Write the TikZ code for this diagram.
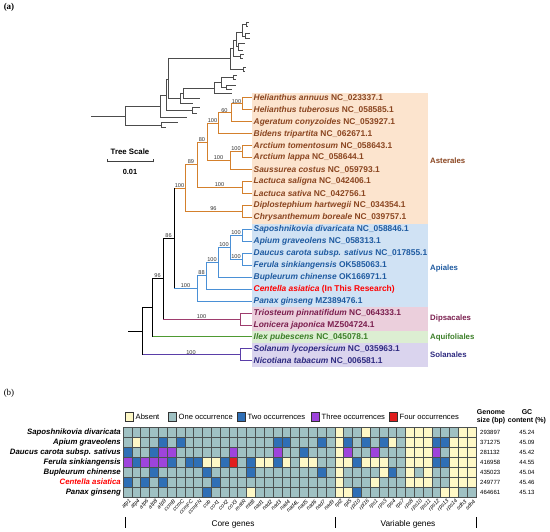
\documentclass[tikz,border=0pt]{standalone}
\usepackage{fontspec}
\setmainfont{Liberation Serif}
\newfontfamily\arial{Liberation Sans}
\definecolor{astB}{HTML}{D4802C}
\definecolor{astT}{HTML}{8A4520}
\definecolor{astF}{HTML}{FCE4CE}
\definecolor{apiB}{HTML}{4A90D6}
\definecolor{apiT}{HTML}{1E5AA0}
\definecolor{apiF}{HTML}{D0E2F4}
\definecolor{dipB}{HTML}{9E3D6E}
\definecolor{dipT}{HTML}{7A1E4E}
\definecolor{dipF}{HTML}{EBCFDC}
\definecolor{aqB}{HTML}{4E9A32}
\definecolor{aqT}{HTML}{3C7F28}
\definecolor{aqF}{HTML}{DCEED2}
\definecolor{solB}{HTML}{5A3EA8}
\definecolor{solT}{HTML}{2E2A80}
\definecolor{solF}{HTML}{DAD4EE}
\definecolor{cA}{HTML}{FEF8C6}
\definecolor{cO}{HTML}{9FC1C3}
\definecolor{cT}{HTML}{2F6FB6}
\definecolor{cH}{HTML}{9E44DC}
\definecolor{cF}{HTML}{E01E1E}
\definecolor{gridc}{HTML}{4A5050}
\tikzset{
 br/.style={line width=1pt},
 tip/.style={anchor=west, inner sep=0pt, font=\arial\bfseries\fontsize{8.4}{10}\selectfont},
 clade/.style={anchor=west, inner sep=0pt, font=\arial\bfseries\fontsize{7.8}{9}\selectfont},
 bs/.style={midway, above, inner sep=0.6pt, font=\arial\fontsize{5.6}{6}\selectfont, text=black!80},
 mini/.style={line width=0.7pt, draw=black!70},
 gene/.style={anchor=east, rotate=45, inner sep=0pt, font=\arial\itshape\fontsize{5.4}{6}\selectfont},
 rowlab/.style={anchor=east, inner sep=0pt, font=\arial\bfseries\itshape\fontsize{7.8}{9}\selectfont},
 leg/.style={anchor=west, inner sep=0pt, font=\arial\fontsize{7.6}{9}\selectfont},
 legbox/.style={draw=black!80, line width=0.6pt},
 num/.style={inner sep=0pt, font=\arial\fontsize{6}{7}\selectfont},
 hdr/.style={inner sep=0pt, align=center, font=\arial\bfseries\fontsize{7}{8}\selectfont},
 grp/.style={inner sep=0pt, font=\arial\fontsize{8.3}{9}\selectfont},
}
\begin{document}
\begin{tikzpicture}[x=1pt,y=-1pt]
\useasboundingbox[fill=white] (0,0) rectangle (550,532);
% panel labels
\node[inner sep=0pt, font=\bfseries\fontsize{9}{10}\selectfont] (pa) at (9,7) {(a)};
\node[inner sep=0pt, font=\fontsize{9}{10}\selectfont] (pb) at (9,393) {(b)};

% ---------- overview tree ----------
\draw[mini] (91,116) -- (125,116);
\draw[mini] (125,106) -- (125,125);
\draw[mini] (125,106) -- (160,106);
\draw[mini] (125,125) -- (161,125);
\draw[mini] (161,122.5) -- (161,127.5) (161,122.5) -- (178,122.5) (161,127.5) -- (166,127.5);
\draw[mini] (160,95) -- (160,117) (160,117) -- (187,117) (160,95) -- (166,95);
\draw[mini] (166,79) -- (166,110) (166,110) -- (192,110);
\draw[mini] (192,107) -- (192,113) (192,107) -- (200,107) (192,113) -- (197,113);
\draw[mini] (166,79) -- (168,79) (168,58) -- (168,98) (168,98) -- (180,98);
\draw[mini] (180,93) -- (180,103) (180,103) -- (193,103) (180,93) -- (183,93);
\draw[mini] (183,88) -- (183,98) (183,98) -- (200,98) (183,88) -- (214,88);
\draw[mini] (214,82) -- (214,93) (214,93) -- (232,93) (214,82) -- (221,82);
\draw[mini] (221,77) -- (221,87) (221,77) -- (233,77) (233,75) -- (233,79) (233,75) -- (237,75) (233,79) -- (236,79);
\draw[mini] (221,87) -- (226,87) (226,85) -- (226,89) (226,85) -- (236,85) (226,89) -- (232,89);
\draw[mini] (168,58) -- (230,58) (230,48) -- (230,69) (230,69) -- (243,69) (243,67) -- (243,71) (243,67) -- (246,67) (243,71) -- (245,71);
\draw[mini] (230,48) -- (233,48) (233,40) -- (233,56) (233,56) -- (240,56) (240,54) -- (240,58) (240,54) -- (244,54) (240,58) -- (243,58);
\draw[mini] (233,40) -- (236,40) (236,32) -- (236,46) (236,46) -- (238,46) (238,43) -- (238,50) (238,43) -- (245,43) (238,50) -- (243,50);
\draw[mini] (236,32) -- (242,32) (242,24) -- (242,36) (242,24) -- (246,24) (246,22) -- (246,26) (246,22) -- (249,22) (246,26) -- (248,26);
\draw[mini] (242,36) -- (245,36) (245,33) -- (245,38) (245,33) -- (250,33) (245,38) -- (250,38);

% ---------- tree scale ----------
\node[inner sep=0pt, font=\arial\bfseries\fontsize{7.8}{9}\selectfont] (tsl) at (130,152) {Tree Scale};
\coordinate (sbl) at (107,161);
\coordinate (sbr) at (153,161);
\draw[line width=0.8pt, black!75] (sbl) -- (sbr);
\draw[line width=0.6pt, black!75] ([yshift=-1.5pt]sbl) -- ([yshift=1.5pt]sbl) ([yshift=-1.5pt]sbr) -- ([yshift=1.5pt]sbr);
\node[inner sep=0pt, font=\arial\bfseries\fontsize{7.4}{9}\selectfont] (tsv) at (130,172) {0.01};

% ---------- clade boxes ----------
\fill[astF] (252,93) rectangle (428,224);
\fill[apiF] (252,224) rectangle (428,307);
\fill[dipF] (252,307) rectangle (428,331);
\fill[aqF] (252,331) rectangle (428,343);
\fill[solF] (252,343) rectangle (428,367);

% tips
\foreach \i in {1,...,23} { \coordinate (t\i) at (252,{98+11.95*(\i-1)}); }
\node[tip,text=astT] (L1) at ([xshift=1.5pt]t1) {\textit{Helianthus annuus} NC\_023337.1};
\node[tip,text=astT] (L2) at ([xshift=1.5pt]t2) {\textit{Helianthus tuberosus} NC\_058585.1};
\node[tip,text=astT] (L3) at ([xshift=1.5pt]t3) {\textit{Ageratum conyzoides} NC\_053927.1};
\node[tip,text=astT] (L4) at ([xshift=1.5pt]t4) {\textit{Bidens tripartita} NC\_062671.1};
\node[tip,text=astT] (L5) at ([xshift=1.5pt]t5) {\textit{Arctium tomentosum} NC\_058643.1};
\node[tip,text=astT] (L6) at ([xshift=1.5pt]t6) {\textit{Arctium lappa} NC\_058644.1};
\node[tip,text=astT] (L7) at ([xshift=1.5pt]t7) {\textit{Saussurea costus} NC\_059793.1};
\node[tip,text=astT] (L8) at ([xshift=1.5pt]t8) {\textit{Lactuca saligna} NC\_042406.1};
\node[tip,text=astT] (L9) at ([xshift=1.5pt]t9) {\textit{Lactuca sativa} NC\_042756.1};
\node[tip,text=astT] (L10) at ([xshift=1.5pt]t10) {\textit{Diplostephium hartwegii} NC\_034354.1};
\node[tip,text=astT] (L11) at ([xshift=1.5pt]t11) {\textit{Chrysanthemum boreale} NC\_039757.1};
\node[tip,text=apiT] (L12) at ([xshift=1.5pt]t12) {\textit{Saposhnikovia divaricata} NC\_058846.1};
\node[tip,text=apiT] (L13) at ([xshift=1.5pt]t13) {\textit{Apium graveolens} NC\_058313.1};
\node[tip,text=apiT] (L14) at ([xshift=1.5pt]t14) {\textit{Daucus carota subsp. sativus} NC\_017855.1};
\node[tip,text=apiT] (L15) at ([xshift=1.5pt]t15) {\textit{Ferula sinkiangensis} OK585063.1};
\node[tip,text=apiT] (L16) at ([xshift=1.5pt]t16) {\textit{Bupleurum chinense} OK166971.1};
\node[tip,text=red] (L17) at ([xshift=1.5pt]t17) {\textit{Centella asiatica} (In This Research)};
\node[tip,text=apiT] (L18) at ([xshift=1.5pt]t18) {\textit{Panax ginseng} MZ389476.1};
\node[tip,text=dipT] (L19) at ([xshift=1.5pt]t19) {\textit{Triosteum pinnatifidum} NC\_064333.1};
\node[tip,text=dipT] (L20) at ([xshift=1.5pt]t20) {\textit{Lonicera japonica} MZ504724.1};
\node[tip,text=aqT] (L21) at ([xshift=1.5pt]t21) {\textit{Ilex pubescens} NC\_045078.1};
\node[tip,text=solT] (L22) at ([xshift=1.5pt]t22) {\textit{Solanum lycopersicum} NC\_035963.1};
\node[tip,text=solT] (L23) at ([xshift=1.5pt]t23) {\textit{Nicotiana tabacum} NC\_006581.1};

% clade names
\node[clade,text=astT] (cAst) at (430,161) {Asterales};
\node[clade,text=apiT] (cApi) at (430,268) {Apiales};
\node[clade,text=dipT] (cDip) at (430,318) {Dipsacales};
\node[clade,text=aqT] (cAqu) at (430,337) {Aquifoliales};
\node[clade,text=solT] (cSol) at (430,355) {Solanales};

% internal nodes
\coordinate (hel) at (242,104);
\coordinate (n60) at (231,112.95);
\coordinate (n100a) at (218,123.4);
\coordinate (arc) at (242,151.8);
\coordinate (n100b) at (230,160.75);
\coordinate (n80) at (207,142.1);
\coordinate (lac) at (242,187.6);
\coordinate (n89) at (197,164.85);
\coordinate (dip) at (242,211.5);
\coordinate (ast) at (185,188.2);
\coordinate (sa) at (242,235.4);
\coordinate (df) at (242,259.3);
\coordinate (n100c) at (230,247.35);
\coordinate (n100d) at (218,262.3);
\coordinate (n88) at (206,275.75);
\coordinate (api) at (197,288.45);
\coordinate (n100e) at (174,238.3);
\coordinate (dps) at (240,319.1);
\coordinate (n86) at (163,278.7);
\coordinate (n96) at (152,307.85);
\coordinate (sol) at (240,354.9);
\coordinate (root) at (142,331.4);
\coordinate (rs) at (128,331.4);

% clade branches
\foreach \p/\c in {hel/t1,hel/t2,n60/hel,n60/t3,n100a/n60,n100a/t4,arc/t5,arc/t6,n100b/arc,n100b/t7,n80/n100a,n80/n100b,lac/t8,lac/t9,n89/n80,n89/lac,dip/t10,dip/t11,ast/n89,ast/dip}
  {\draw[br,astB] (\p) |- (\c);}
\foreach \p/\c in {sa/t12,sa/t13,df/t14,df/t15,n100c/sa,n100c/df,n100d/n100c,n100d/t16,n88/n100d,n88/t17,api/n88,api/t18}
  {\draw[br,apiB] (\p) |- (\c);}
\foreach \p/\c in {dps/t19,dps/t20} {\draw[br,dipB] (\p) |- (\c);}
\foreach \p/\c in {sol/t22,sol/t23} {\draw[br,solB] (\p) |- (\c);}
% backbone
\draw[br,astB] (n100e |- ast) -- (ast);
\draw[br,apiB] (n100e |- api) -- (api);
\draw[br,dipB] (n86 |- dps) -- (dps);
\draw[br,aqB] (n96 |- t21) -- (t21);
\draw[br,solB] (root |- sol) -- (sol);
\draw[br] (n100e |- ast) -- (n100e |- api);
\draw[br] (n86 |- n100e) -- (n100e);
\draw[br] (n86 |- n100e) -- (n86 |- dps);
\draw[br] (n96 |- n86) -- (n86);
\draw[br] (n96 |- n86) -- (n96 |- t21);
\draw[br] (root |- n96) -- (n96);
\draw[br] (root |- n96) -- (root |- sol);
\draw[br] (rs) -- (root);

% bootstrap values
\foreach \p/\c/\v in {n60/hel/100,n100a/n60/60,n80/n100a/100,n100b/arc/100,n80/n100b/100,n89/n80/80,n89/lac/100,ast/n89/89,ast/dip/96,n100e/ast/100,n100c/sa/100,n100c/df/100,n100d/n100c/100,n88/n100d/100,api/n88/88,n100e/api/100,n86/n100e/86,n96/n86/96,n86/dps/100,root/sol/100}
  {\path (\p |- \c) -- node[bs] {\v} (\c);}

% ---------- heatmap ----------
\foreach \sq/\txt [count=\k] in {125/Absent,168/One occurrence,237/Two occurrences,311/Three occurrences,389/Four occurrences} {
  \pgfmathsetmacro{\lc}{{"cA","cO","cT","cH","cF"}[\k-1]}
  \filldraw[legbox,fill=\lc] (\sq,412.5) rectangle ++(8.5,9);
  \node[leg] (lg\k) at (\sq+10.5,417) {\txt};
}
\node[hdr] (hg) at (491,417) {Genome\\size (bp)};
\node[hdr] (hc) at (527,417) {GC\\content (\%)};

\foreach \row [count=\i] in {
 {O,O,O,O,O,O,O,O,O,O,O,O,O,O,O,O,O,O,O,O,O,O,O,O,A,O,O,A,O,O,O,O,A,A,A,O,O,O,A,A},
 {O,A,O,O,T,O,T,O,O,O,O,O,O,O,O,O,O,T,T,O,O,O,T,O,A,T,O,T,O,T,A,O,A,A,A,T,T,A,A,A},
 {T,O,O,T,H,H,O,O,O,O,O,O,H,O,O,O,O,H,O,O,T,O,O,O,A,H,O,O,H,O,O,O,A,A,A,H,O,A,A,A},
 {H,T,H,H,H,T,O,T,T,A,A,T,F,O,T,A,A,T,A,O,A,A,O,O,A,A,T,A,A,A,O,O,A,A,A,T,T,A,A,A},
 {O,O,O,T,O,O,O,O,O,T,O,O,O,O,T,O,O,O,O,O,O,O,T,O,A,O,O,O,O,A,T,O,A,O,A,O,O,A,A,A},
 {T,O,T,O,T,O,O,O,O,O,T,O,O,O,O,O,O,O,O,O,O,O,O,O,A,O,O,O,A,O,O,O,A,A,A,O,O,A,A,A},
 {O,O,O,O,O,O,O,O,O,T,O,O,O,O,A,O,O,O,O,O,O,O,O,O,A,A,T,O,O,O,O,O,O,O,O,O,A,A,O,O}} {
  \foreach \c [count=\j] in \row {
    \filldraw[fill=c\c, draw=gridc, line width=0.5pt] ({123+(\j-1)*8.825},{427+(\i-1)*10}) rectangle ++(8.825,10);
  }
}
\foreach \sp/\gs/\gc [count=\i] in {Saposhnikovia divaricata/293897/45.24, Apium graveolens/371275/45.09, Daucus carota subsp. sativus/281132/45.42, Ferula sinkiangensis/416958/44.55, Bupleurum chinense/435023/45.04, Centella asiatica/249777/45.46, Panax ginseng/464661/45.13} {
  \node[rowlab] (r\i) at (121,{432+(\i-1)*10}) {\ifnum\i=6 \color{red}\fi\sp};
  \node[num,anchor=west] (gs\i) at (480,{432+(\i-1)*10}) {\gs};
  \node[num] (gc\i) at (527,{432+(\i-1)*10}) {\gc};
}
\foreach \g [count=\j] in {atp1,atp4,atp6,atp8,atp9,ccmB,ccmC,ccmFC,ccmFN,cob,cox1,cox2,cox3,matR,mttB,nad1,nad2,nad3,nad4,nad4L,nad5,nad6,nad7,nad9,rpl2,rpl5,rpl10,rpl16,rps1,rps3,rps4,rps7,rps8,rps10,rps11,rps12,rps13,rps14,sdh3,sdh4} {
  \node[gene] (g\j) at ({123+(\j-0.5)*8.825+3},500.5) {\g};
}
\coordinate (d1) at (125,517); \coordinate (d2) at (335,517); \coordinate (d3) at (476,517);
\foreach \d in {d1,d2,d3} {\draw[line width=1pt] (\d) -- ++(0,11);}
\node[grp] (core) at (233,524) {Core genes};
\node[grp] (vari) at (408,524) {Variable genes};
\end{tikzpicture}
\end{document}
